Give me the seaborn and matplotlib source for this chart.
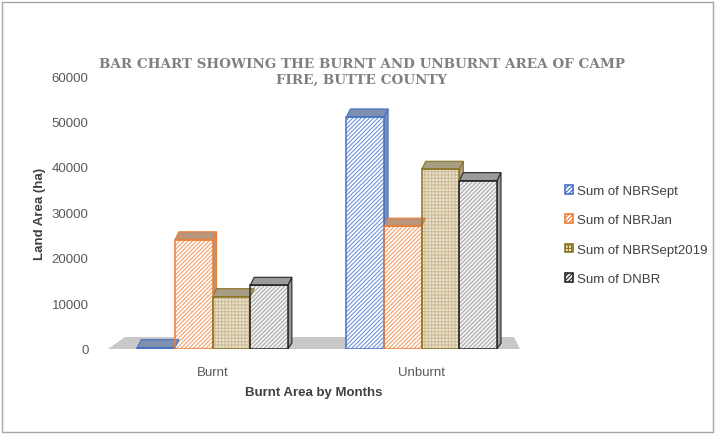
import numpy as np
import pandas as pd
import seaborn as sns
import matplotlib.pyplot as plt
from matplotlib.patches import Polygon, Rectangle, Patch

categories = ['Burnt', 'Unburnt']
series = ['Sum of NBRSept', 'Sum of NBRJan', 'Sum of NBRSept2019', 'Sum of DNBR']
nbr_sept = [300, 51000]
nbr_jan = [24000, 27000]
nbr_sept2019 = [11500, 39500]
dnbr = [14000, 37000]

face_colors = ['#ffffff', '#ffffff', '#ede4d0', '#f4f4f4']
hatch_colors = ['#6f94d8', '#f3a06c', '#cbbb98', '#a8a8a8']
edge_colors = ['#4472c4', '#ed7d31', '#8a7423', '#262626']
cap_colors = ['#7f8fae', '#b9957c', '#a79d83', '#9b9b9b']
hatches = ['////////', '////////', '+++++', '////////']

df = pd.DataFrame({
    'Category': categories * 4,
    'Series': np.repeat(series, 2),
    'Value': nbr_sept + nbr_jan + nbr_sept2019 + dnbr,
})

sns.set_style('white')
plt.rcParams['font.family'] = ['Liberation Sans', 'DejaVu Sans']
plt.rcParams['hatch.linewidth'] = 0.8

fig = plt.figure(figsize=(7.16, 4.35), dpi=100)
ax = fig.add_axes([108 / 716, 85 / 435, 412 / 716, 273 / 435])

sns.barplot(data=df, x='Category', y='Value', hue='Series', order=categories,
            hue_order=series, width=0.72, ax=ax, legend=False)

ax.set_ylim(0, 60000)
ax.set_xlim(-0.5, 1.47)

# floor of the 3D chart
to_px = ax.transData
inv = to_px.inverted()
x0, x1 = ax.get_xlim()
(fx0, fy0) = to_px.transform((x0, 0))
(fx1, _) = to_px.transform((x1, 0))
floor_px = [(fx0, fy0), (fx1, fy0), (fx1 - 6, fy0 + 12), (fx0 + 17, fy0 + 12)]
ax.add_patch(Polygon([inv.transform(p) for p in floor_px], closed=True,
                     facecolor='#c8c8c8', edgecolor='none', zorder=0.5, clip_on=False))

# style bars (hatch and outline drawn separately) and add caps
for i, cont in enumerate(ax.containers):
    for bar in cont:
        bar.set_facecolor(face_colors[i])
        bar.set_edgecolor(hatch_colors[i])
        bar.set_hatch(hatches[i])
        bar.set_linewidth(0)
        bar.set_zorder(2)
        xl, yb = bar.get_x(), bar.get_y()
        w, h = bar.get_width(), bar.get_height()
        ax.add_patch(Rectangle((xl, yb), w, h, fill=False, edgecolor=edge_colors[i],
                               linewidth=1.1, zorder=2.2))
        (pl, pt) = to_px.transform((xl, yb + h))
        (pr, pb) = to_px.transform((xl + w, yb))
        cap = [(pl, pt), (pr, pt), (pr + 4, pt + 8), (pl + 4, pt + 8)]
        side = [(pr, pt), (pr + 4, pt + 8), (pr + 4, pb + 6), (pr, pb)]
        ax.add_patch(Polygon([inv.transform(p) for p in side], closed=True,
                             facecolor=cap_colors[i], edgecolor=edge_colors[i],
                             linewidth=0.8, zorder=1.9))
        ax.add_patch(Polygon([inv.transform(p) for p in cap], closed=True,
                             facecolor=cap_colors[i], edgecolor=edge_colors[i],
                             linewidth=0.8, zorder=2.1))

sns.despine(ax=ax, left=True, bottom=True)
ax.set_yticks(np.arange(0, 60001, 10000))
ax.tick_params(axis='y', labelsize=9.5, labelcolor='#595959', length=0, pad=14)
ax.tick_params(axis='x', labelsize=9.5, labelcolor='#595959', length=0, pad=12)
ax.set_xlabel('Burnt Area by Months', fontsize=9.5, fontweight='bold', color='#404040', labelpad=6)
ax.set_ylabel('Land Area (ha)', fontsize=9.5, fontweight='bold', color='#404040', labelpad=4)

fig.text(0.505, 1 - 72 / 435, 'BAR CHART SHOWING THE BURNT AND UNBURNT AREA OF CAMP\nFIRE, BUTTE COUNTY',
         ha='center', va='center', fontsize=9.7, fontweight='bold', color='#808080',
         family=['DejaVu Serif'], linespacing=1.3)

# legend
handles = [Patch(facecolor=face_colors[i], edgecolor=edge_colors[i], hatch=hatches[i],
                 linewidth=1.2, label=series[i]) for i in range(4)]
fig.legend(handles=handles, loc='center left', bbox_to_anchor=(553 / 716, 199 / 435),
           frameon=False, fontsize=9.5, handlelength=0.65, handleheight=0.65,
           handletextpad=0.25, labelspacing=1.3, labelcolor='#404040')

fig.add_artist(Rectangle((2 / 716, 2 / 435), 711 / 716, 430 / 435, transform=fig.transFigure,
                         fill=False, edgecolor='#a6a6a6', linewidth=1))

fig.savefig('out.png', dpi=100)
